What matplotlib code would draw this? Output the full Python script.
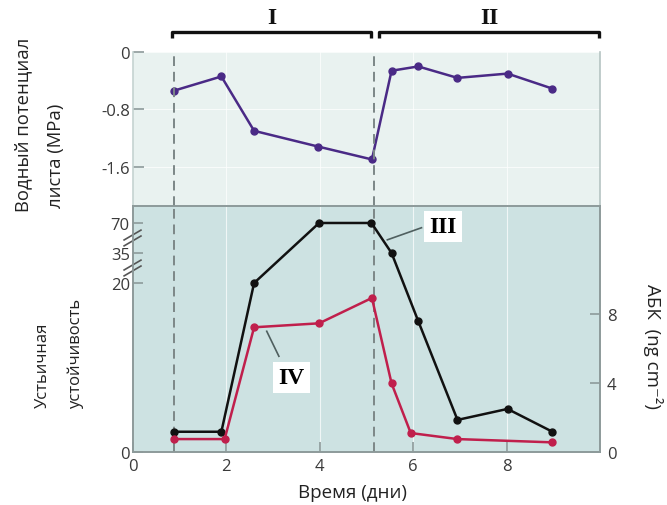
import numpy as np
import matplotlib
matplotlib.use("Agg")
import matplotlib.pyplot as plt

plt.rcParams['font.family'] = ['Open Sans', 'DejaVu Sans']
plt.rcParams['axes.unicode_minus'] = False

# data
days_wp = [0.88, 1.90, 2.60, 3.97, 5.12, 5.54, 6.11, 6.95, 8.02, 8.98]
water_potential = [-0.54, -0.34, -1.10, -1.32, -1.50, -0.26, -0.20, -0.36, -0.30, -0.51]

days_res = [0.88, 1.90, 2.60, 3.99, 5.11, 5.54, 6.11, 6.95, 8.02, 8.98]
resistance = [2.4, 2.4, 20, 70, 70, 35, 15.5, 3.8, 5.1, 2.4]

days_aba = [0.88, 1.97, 2.60, 3.99, 5.12, 5.54, 5.95, 6.95, 8.98]
aba = [0.75, 0.75, 7.23, 7.46, 8.93, 3.98, 1.10, 0.75, 0.56]

stress_start = 0.88
stress_end = 5.17

wp_ticks = [0, -0.8, -1.6]
wp_ticklabels = ['0', '-0.8', '-1.6']
res_ticks = [0, 20, 35, 70]
aba_ticks = [0, 4, 8]
day_ticks = [0, 2, 4, 6, 8]

# broken scale for the stomatal resistance axis
knots_v = np.array([0, 20, 35, 70, 140])
knots_u = np.array([0, 169, 199, 229, 289])


def fwd(v):
    return np.interp(v, knots_v, knots_u)


def inv(u):
    return np.interp(u, knots_u, knots_v)


TOP_BG = '#e9f2f0'
BOT_BG = '#cde2e2'
SPINE = '#8d9a9a'
TXT = '#3a3a3a'
PURPLE = '#4a2a86'
RED = '#c01f4c'
W, H = 667, 506

fig = plt.figure(figsize=(6.67, 5.06), dpi=100)
left, width = 0.1987, 0.701
ax_top = fig.add_axes([left, 0.591, width, 0.304])
ax = fig.add_axes([left, 0.1047, width, 0.4862])
ax_r = ax.twinx()

for a, bg in ((ax_top, TOP_BG), (ax, BOT_BG)):
    a.set_facecolor(bg)
    a.set_xlim(0, 10)
    a.grid(True, color='white', lw=0.8, alpha=0.7)
    a.set_axisbelow(True)
    for s in a.spines.values():
        s.set_color(SPINE)
        s.set_linewidth(1.2)

# top panel: leaf water potential
ax_top.plot(days_wp, water_potential, '-o', color=PURPLE, lw=1.8, ms=5)
ax_top.set_ylim(-2.15, 0)
ax_top.set_yticks(wp_ticks)
ax_top.set_yticklabels(wp_ticklabels)
ax_top.set_xticks([2, 4, 6, 8])
ax_top.tick_params(axis='x', length=0, labelbottom=False)
ax_top.tick_params(axis='y', direction='in', length=8, width=1.2, color=SPINE,
                   labelsize=12, labelcolor=TXT, pad=2)
ax_top.spines['top'].set_visible(False)
ax_top.spines['bottom'].set_visible(False)
ax_top.spines['left'].set_color('#c5d3d1')
ax_top.spines['right'].set_color('#b5c4c2')

# bottom panel: stomatal resistance (left) and ABA (right)
ax.set_yscale('function', functions=(fwd, inv))
ax.plot(days_res, resistance, '-o', color='#111111', lw=1.8, ms=5, zorder=3)
ax.set_ylim(0, 89.8)
ax.set_yticks(res_ticks)
ax.set_yticklabels([str(t) for t in res_ticks])
ax.yaxis.set_minor_locator(matplotlib.ticker.NullLocator())
ax.set_xticks(day_ticks)
ax.tick_params(direction='in', length=7, width=1.2, color=SPINE,
               labelsize=12, labelcolor=TXT, pad=2)
ax.tick_params(axis='x', pad=4)
ax.grid(False, axis='y')

ax_r.plot(days_aba, aba, '-o', color=RED, lw=1.8, ms=5, zorder=3)
ax_r.set_ylim(0, 14.26)
ax_r.set_yticks(aba_ticks)
ax_r.tick_params(direction='in', length=7, width=1.2, color=SPINE,
                 labelsize=12, labelcolor=TXT, pad=5)
for s in ax_r.spines.values():
    s.set_color(SPINE)
    s.set_linewidth(1.2)

# dashed lines marking stress and rewatering
for d in (stress_start, stress_end):
    for a in (ax_top, ax):
        a.axvline(d, color='#7c8787', lw=1.4, ls=(0, (5, 3)), zorder=2)

# axis breaks on the left axis
for yb in (0.748, 0.870):
    for dy in (-0.012, 0.012):
        ax.plot([-0.018, 0.018], [yb + dy - 0.02, yb + dy + 0.02],
                transform=ax.transAxes, color='#555555', lw=1.2,
                clip_on=False, zorder=5)

# phase brackets above the top panel
for x0, x1, lab in ((0.85, 5.09, 'I'), (5.27, 9.98, 'II')):
    ax_top.plot([x0, x0, x1, x1], [1.093, 1.13, 1.13, 1.093],
                transform=ax_top.get_xaxis_transform(), color='#111111',
                lw=2.4, clip_on=False, solid_capstyle='butt')
    ax_top.text((x0 + x1) / 2, 1.225, lab, transform=ax_top.get_xaxis_transform(),
                ha='center', va='center', fontsize=17, fontweight='bold',
                family='Liberation Serif', color='#111111')

# curve labels with leader lines
box = dict(boxstyle='square,pad=0.22', fc='white', ec='none')
ax_r.plot([6.18, 5.45], [13.0, 12.3], color='#4f5f5f', lw=1.2, zorder=4)
ax_r.plot([3.13, 2.87], [5.55, 7.0], color='#4f5f5f', lw=1.2, zorder=4)
ax_r.text(6.64, 13.06, 'III', ha='center', va='center', fontsize=17,
          fontweight='bold', family='Liberation Serif', bbox=box, zorder=5)
ax_r.text(3.40, 4.33, 'IV', ha='center', va='center', fontsize=17,
          fontweight='bold', family='Liberation Serif', bbox=box, zorder=5)

# axis titles
fig.text(23.5 / W, 1 - 212 / H, 'Водный потенциал', rotation=90,
         ha='center', va='bottom', fontsize=13.3, color='#222222')
fig.text(56 / W, 1 - 208 / H, 'листа (MPa)', rotation=90,
         ha='center', va='bottom', fontsize=13.3, color='#222222')
fig.text(42.5 / W, 1 - 408 / H, 'Устьичная', rotation=90,
         ha='center', va='bottom', fontsize=12, color='#222222')
fig.text(75.5 / W, 1 - 409 / H, 'устойчивость', rotation=90,
         ha='center', va='bottom', fontsize=12, color='#222222')
fig.text(653 / W, 1 - 347 / H, 'АБК  (ng cm⁻²)', rotation=270,
         ha='center', va='center', fontsize=13.5, color='#222222')
fig.text(352 / W, 1 - 493 / H, 'Время (дни)', ha='center', va='center',
         fontsize=13.5, color='#222222')

fig.savefig('out.png', dpi=100)
